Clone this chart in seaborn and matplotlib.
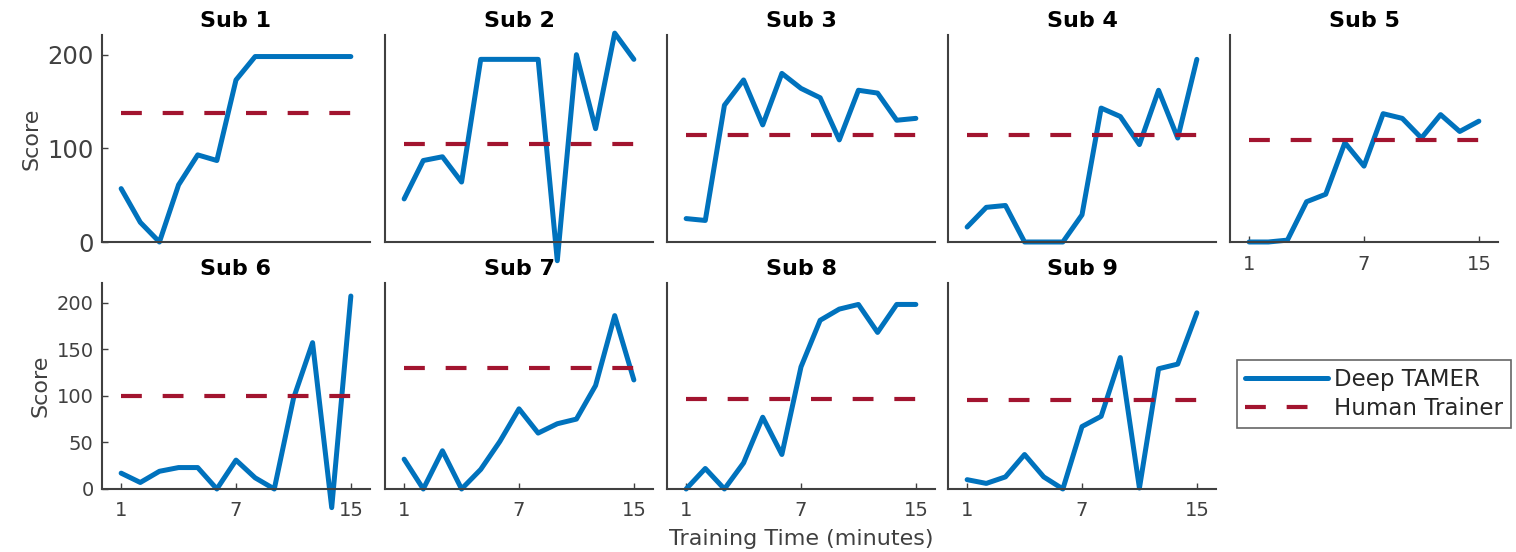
import matplotlib
matplotlib.use("Agg")
import matplotlib.pyplot as plt
import pandas as pd
import seaborn as sns

# 13 samples per subject, ticks shown as 1 / 7 / 15 minutes
minutes = list(range(1, 14))
tick_pos = [1, 7, 13]
tick_labels = ["1", "7", "15"]

subjects = ["Sub 1", "Sub 2", "Sub 3", "Sub 4", "Sub 5", "Sub 6", "Sub 7", "Sub 8", "Sub 9"]
sub1 = [57, 21, 0, 61, 93, 87, 173, 198, 198, 198, 198, 198, 198]
sub2 = [46, 87, 91, 64, 195, 195, 195, 195, -20, 200, 121, 223, 195]
sub3 = [25, 23, 146, 173, 125, 180, 164, 154, 109, 162, 159, 130, 132]
sub4 = [16, 37, 39, 0, 0, 0, 29, 143, 134, 104, 162, 111, 195]
sub5 = [0, 0, 2, 43, 51, 106, 81, 137, 132, 111, 136, 118, 129]
sub6 = [17, 7, 19, 23, 23, 0, 31, 12, 0, 97, 157, -20, 207]
sub7 = [32, 0, 41, 0, 21, 51, 86, 60, 70, 75, 111, 186, 117]
sub8 = [0, 22, 0, 28, 77, 37, 131, 181, 193, 198, 168, 198, 198]
sub9 = [10, 6, 13, 37, 13, 0, 67, 78, 141, 1, 129, 134, 189]
human = [138, 105, 114, 114, 109, 100, 130, 97, 96]

BLUE = "#0072BD"
RED = "#A2142F"
GREY = "#404040"

sns.set_style("ticks")
plt.rcParams["font.family"] = ["DejaVu Sans"]
plt.rcParams["xtick.direction"] = "in"
plt.rcParams["ytick.direction"] = "in"
plt.rcParams["axes.edgecolor"] = GREY
plt.rcParams["xtick.color"] = GREY
plt.rcParams["ytick.color"] = GREY
plt.rcParams["axes.labelcolor"] = GREY
plt.rcParams["axes.titlecolor"] = "black"

scores = [sub1, sub2, sub3, sub4, sub5, sub6, sub7, sub8, sub9]
df = pd.DataFrame(
    [(s, m, v) for s, vals in zip(subjects, scores) for m, v in zip(minutes, vals)],
    columns=["subject", "minute", "score"],
)

W, H = 1516, 552
fig = plt.figure(figsize=(W / 100, H / 100), dpi=100)

col_left = [102, 385, 667, 948, 1230]
ax_w = 268
rows = [(35, 242), (283, 489)]


def rect(left, top, width, bottom):
    return [left / W, 1 - bottom / H, width / W, (bottom - top) / H]


for i, sub in enumerate(subjects):
    r, c = divmod(i, 5)
    top, bottom = rows[r]
    ax = fig.add_axes(rect(col_left[c], top, ax_w, bottom))
    sns.lineplot(
        data=df[df["subject"] == sub], x="minute", y="score",
        ax=ax, color=BLUE, lw=3.6, clip_on=False, label="Deep TAMER", legend=False,
    )
    ax.hlines(human[i], minutes[0], minutes[-1], colors=RED, lw=3,
              linestyles=(0, (5, 5)), label="Human Trainer", clip_on=False)
    ax.set_xlim(0, 14)
    ax.set_ylim(0, 221)
    sns.despine(ax=ax)
    ax.set_title(sub, fontsize=16, fontweight="bold", pad=6)
    ax.set_xlabel("")
    ax.set_ylabel("")
    ax.set_xticks(tick_pos)
    ax.set_xticklabels(tick_labels)
    ax.tick_params(axis="both", length=4, width=1, labelsize=14)
    ax.tick_params(axis="x", pad=9)
    ax.tick_params(axis="y", pad=6)
    if r == 0:
        ax.set_yticks([0, 100, 200])
        ax.tick_params(axis="y", labelsize=17.5)
    else:
        ax.set_yticks([0, 50, 100, 150, 200])
    if c != 0:
        ax.set_yticklabels([])
        ax.tick_params(axis="y", length=0)
    else:
        ax.set_ylabel("Score", fontsize=16)
    if r == 0 and c != 4:
        ax.set_xticklabels([])
        ax.tick_params(axis="x", length=0)
    if sub == "Sub 8":
        ax.set_xlabel("Training Time (minutes)", fontsize=16, labelpad=6)
    for sp in ax.spines.values():
        sp.set_linewidth(1.5)

handles, labels = ax.get_legend_handles_labels()
leg = fig.legend(
    handles, labels, loc="upper left", bbox_to_anchor=(1237 / W, 1 - 360 / H),
    fontsize=16.5, frameon=True, fancybox=False, handlelength=3.6,
    handletextpad=0.3, labelspacing=0.25, borderpad=0.35, borderaxespad=0,
)
leg.get_frame().set_edgecolor(GREY)
leg.get_frame().set_linewidth(1.2)
for t in leg.get_texts():
    t.set_color("#262626")

fig.savefig("out.png", dpi=100)
